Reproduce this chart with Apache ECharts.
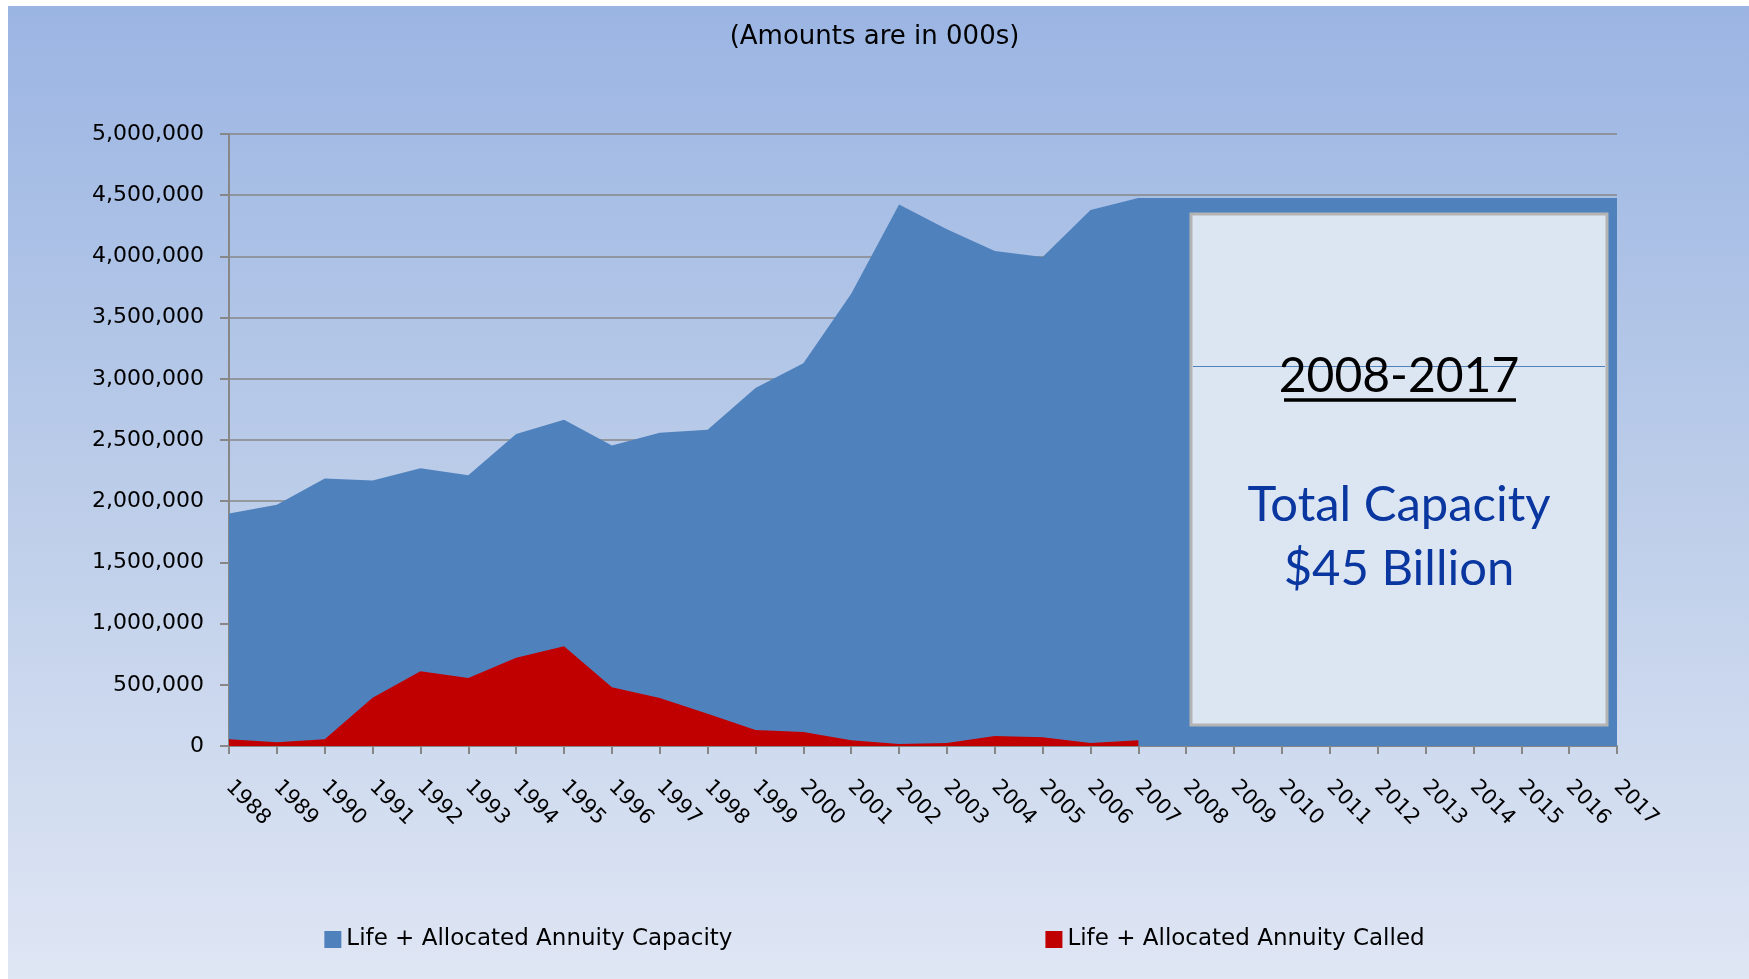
<!DOCTYPE html>
<html>
<head>
<meta charset="utf-8">
<script src="https://cdn.jsdelivr.net/npm/echarts@6/dist/echarts.min.js"></script>
<style>
html,body{margin:0;padding:0;background:#ffffff;}
#chart{width:1749px;height:979px;}
</style>
</head>
<body>
<div id="chart"></div>
<script>
const years = ['1988','1989','1990','1991','1992','1993','1994','1995','1996','1997','1998','1999','2000','2001','2002','2003','2004','2005','2006','2007','2008','2009','2010','2011','2012','2013','2014','2015','2016','2017'];
const capacity = [1900000,1970000,2185000,2170000,2270000,2212000,2550000,2665000,2455000,2560000,2584000,2925000,3128000,3695000,4425000,4222000,4045000,3995000,4380000,4478000,4478000,4478000,4478000,4478000,4478000,4478000,4478000,4478000,4478000,4478000];
const called = [55000,30000,55000,395000,610000,555000,722000,814000,479000,392000,264000,131000,114000,46000,16000,25000,82000,71000,25000,46000,null,null,null,null,null,null,null,null,null,null];
const yTicks = {min:0, max:5000000, interval:500000};
const seriesNames = ['Life + Allocated Annuity Capacity','Life + Allocated Annuity Called'];
const titleText = '(Amounts are in 000s)';
const boxLines = ['2008-2017','Total Capacity','$45 Billion'];

const chart = echarts.init(document.getElementById('chart'), null, {renderer:'canvas'});
const fmt = v => v.toString().replace(/\B(?=(\d{3})+(?!\d))/g, ',');

const option = {
  animation:false,
  backgroundColor:'#ffffff',
  graphic:[
    {type:'rect', z:-10, silent:true, shape:{x:8,y:6,width:1741,height:973},
     style:{fill:new echarts.graphic.LinearGradient(0,0,0,1,[{offset:0,color:'#9bb5e3'},{offset:0.5,color:'#bccde9'},{offset:1,color:'#dfe6f4'}])}},
    {type:'rect', z:50, silent:true, shape:{x:1191,y:214,width:416,height:511},
     style:{fill:'#dce6f2', stroke:'#b4b4b4', lineWidth:3}},
    {type:'line', z:51, silent:true, shape:{x1:1193,y1:366.5,x2:1605,y2:366.5}, style:{stroke:'#4f81bd', lineWidth:1}},
    {type:'text', z:52, silent:true, x:1399, y:377,
     style:{text:boxLines[0], font:'48px Lato', fill:'#000000', align:'center', verticalAlign:'middle'}},
    {type:'line', z:52, silent:true, shape:{x1:1284,y1:400,x2:1516,y2:400}, style:{stroke:'#000000', lineWidth:3.5}},
    {type:'text', z:52, silent:true, x:1399, y:505,
     style:{text:boxLines[1], font:'49px Lato', fill:'#0a36a0', align:'center', verticalAlign:'middle'}},
    {type:'text', z:52, silent:true, x:1399, y:569,
     style:{text:boxLines[2], font:'49px Lato', fill:'#0a36a0', align:'center', verticalAlign:'middle'}}
  ],
  title:{text:titleText, left:'center', top:19, textStyle:{fontFamily:'DejaVu Sans', fontSize:26, fontWeight:'normal', color:'#000000'}},
  legend:{
    bottom:23, left:'center', itemWidth:17, itemHeight:17, itemGap:313, icon:'rect',
    textStyle:{fontFamily:'DejaVu Sans', fontSize:23, color:'#000000'},
    data:seriesNames
  },
  grid:{left:229, right:132, top:134, bottom:233, containLabel:false},
  xAxis:{
    type:'category', data:years, boundaryGap:false,
    axisLine:{lineStyle:{color:'#878787', width:2}},
    axisTick:{show:true, length:8, lineStyle:{color:'#878787', width:2}, interval:0},
    axisLabel:{rotate:-45, interval:0, margin:38, fontFamily:'DejaVu Sans', fontSize:21, color:'#000000'},
    splitLine:{show:false}
  },
  yAxis:{
    type:'value', min:yTicks.min, max:yTicks.max, interval:yTicks.interval,
    axisLine:{show:true, lineStyle:{color:'#878787', width:2}},
    axisTick:{show:true, length:9, lineStyle:{color:'#878787', width:2}},
    axisLabel:{margin:25, fontFamily:'DejaVu Sans', fontSize:22, color:'#000000', formatter:fmt},
    splitLine:{show:true, lineStyle:{color:'#878787', width:1.5}}
  },
  series:[
    {name:seriesNames[0], type:'line', data:capacity, symbol:'none', lineStyle:{width:0}, areaStyle:{color:'#4f81bd', opacity:1}, itemStyle:{color:'#4f81bd'}, z:2},
    {name:seriesNames[1], type:'line', data:called, symbol:'none', lineStyle:{width:0}, areaStyle:{color:'#c00000', opacity:1}, itemStyle:{color:'#c00000'}, z:3, connectNulls:false}
  ]
};
chart.setOption(option);
</script>
</body>
</html>
